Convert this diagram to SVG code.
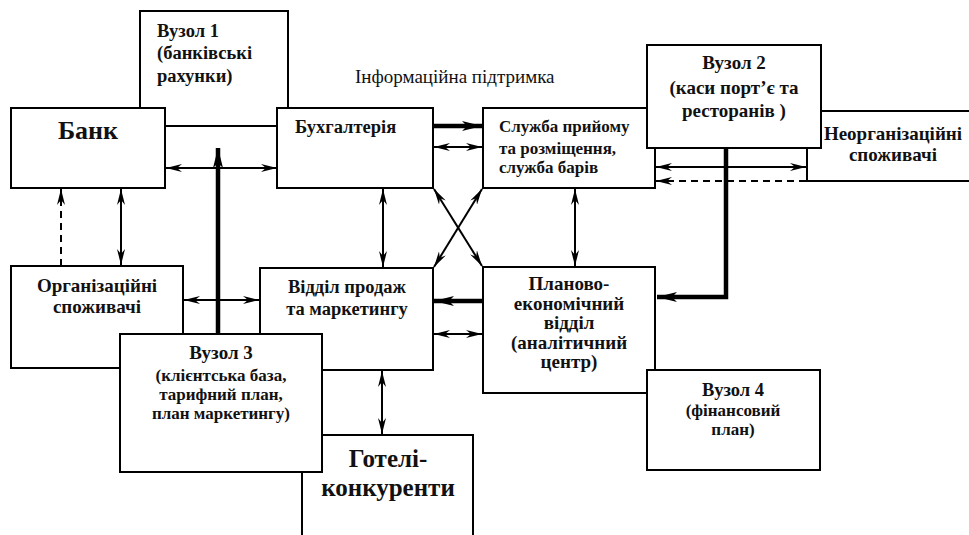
<svg xmlns="http://www.w3.org/2000/svg" width="969" height="535" viewBox="0 0 969 535">
<style>
.box{fill:#fff;stroke:#000;stroke-width:2}
.t{font-family:'Liberation Serif','DejaVu Serif',serif;font-weight:bold;fill:#111}
.r{font-family:'Liberation Serif','DejaVu Serif',serif;font-weight:normal;fill:#111}
.c{text-anchor:middle}
.s17{font-size:17px}.s18{font-size:18.5px}.s19{font-size:19px}.s26{font-size:26px}.s25{font-size:25px}
.ln{fill:none;stroke:#000;stroke-width:2}
.thick{fill:none;stroke:#000;stroke-width:4.5}
.dash{stroke-dasharray:7,5}
</style>
<defs>
<marker id="a" viewBox="0 0 16 8" refX="16" refY="4" markerWidth="16" markerHeight="8" markerUnits="userSpaceOnUse" orient="auto-start-reverse">
<path d="M0,0 L16,4 L0,8 L5,4 z" fill="#000"/>
</marker>
<marker id="b" viewBox="0 0 20 10" refX="20" refY="5" markerWidth="20" markerHeight="10" markerUnits="userSpaceOnUse" orient="auto-start-reverse">
<path d="M0,0 L20,5 L0,10 L5,5 z" fill="#000"/>
</marker>
</defs>
<rect width="969" height="535" fill="#fff"/>

<g id="node-vuzol1">
<rect class="box" x="140" y="11" width="148" height="115"/>
<text class="t s18" x="157" y="37">Вузол 1</text>
<text class="t s18" x="157" y="59">(банківські</text>
<text class="t s18" x="157" y="82">рахунки)</text>
</g>
<g id="node-bank">
<rect class="box" x="11" y="108" width="154" height="80"/>
<text class="t c s26" x="88" y="139">Банк</text>
</g>
<g id="node-buh">
<rect class="box" x="277" y="108" width="156" height="80"/>
<text class="t s18" x="295" y="133">Бухгалтерія</text>
</g>
<g id="node-sluzhba">
<rect class="box" x="483" y="108" width="172" height="80"/>
<text class="t s17" x="499" y="132">Служба прийому</text>
<text class="t s17" x="499" y="154">та розміщення,</text>
<text class="t s17" x="499" y="173">служба барів</text>
</g>
<g id="node-neorg">
<rect class="box" x="807" y="111" width="175" height="70"/>
<text class="t c s19" x="893" y="140">Неорганізаційні</text>
<text class="t c s19" x="893" y="161">споживачі</text>
</g>
<g id="node-vuzol2">
<rect class="box" x="647" y="45" width="174" height="103"/>
<text class="t c s19" x="734" y="69">Вузол 2</text>
<text class="t c s19" x="734" y="94">(каси порт’є та</text>
<text class="t c s19" x="734" y="117">ресторанів )</text>
</g>
<g id="node-org">
<rect class="box" x="11" y="266" width="172" height="102"/>
<text class="t c s19" x="97" y="292">Організаційні</text>
<text class="t c s19" x="97" y="313">споживачі</text>
</g>
<g id="node-viddil">
<rect class="box" x="260" y="268" width="173" height="102"/>
<text class="t c s18" x="347" y="293">Відділ продаж</text>
<text class="t c s18" x="347" y="315">та маркетингу</text>
</g>
<g id="node-hotels">
<rect class="box" x="302" y="435" width="171" height="110"/>
<text class="t c s25" x="388" y="467">Готелі-</text>
<text class="t c s25" x="388" y="496">конкуренти</text>
</g>
<g id="node-vuzol3">
<rect class="box" x="120" y="334" width="202" height="138"/>
<text class="t c s19" x="221" y="359">Вузол 3</text>
<text class="t c s17" x="221" y="381">(клієнтська база,</text>
<text class="t c s17" x="221" y="400">тарифний план,</text>
<text class="t c s17" x="221" y="419">план маркетингу)</text>
</g>
<g id="node-planovo">
<rect class="box" x="483" y="267" width="172" height="126"/>
<text class="t c s19" x="569" y="290">Планово-</text>
<text class="t c s19" x="569" y="310">економічний</text>
<text class="t c s19" x="569" y="329">відділ</text>
<text class="t c s19" x="569" y="349">(аналітичний</text>
<text class="t c s19" x="569" y="368">центр)</text>
</g>
<g id="node-vuzol4">
<rect class="box" x="647" y="370" width="173" height="100"/>
<text class="t c s18" x="733" y="396">Вузол 4</text>
<text class="t c s17" x="733" y="416">(фінансовий</text>
<text class="t c s17" x="733" y="435">план)</text>
</g>

<text class="r s19" x="355" y="83">Інформаційна підтримка</text>

<g id="connectors">
<line class="ln" x1="166" y1="168" x2="277" y2="168" marker-start="url(#a)" marker-end="url(#a)"/>
<line class="thick" x1="218" y1="334" x2="218" y2="148" marker-end="url(#b)"/>
<line class="ln dash" x1="61" y1="266" x2="61" y2="189" marker-end="url(#a)"/>
<line class="ln" x1="121" y1="189" x2="121" y2="265" marker-start="url(#a)" marker-end="url(#a)"/>
<line class="ln" x1="184" y1="300" x2="259" y2="300" marker-start="url(#a)" marker-end="url(#a)"/>
<line class="thick" x1="434" y1="126" x2="482" y2="126" marker-end="url(#b)"/>
<line class="ln" x1="434" y1="147" x2="482" y2="147" marker-start="url(#a)" marker-end="url(#a)"/>
<line class="ln" x1="383" y1="189" x2="383" y2="267" marker-start="url(#a)" marker-end="url(#a)"/>
<line class="ln" x1="575" y1="189" x2="575" y2="266" marker-start="url(#a)" marker-end="url(#a)"/>
<line class="ln" x1="434" y1="189" x2="482" y2="266" marker-start="url(#a)" marker-end="url(#a)"/>
<line class="ln" x1="482" y1="189" x2="434" y2="267" marker-start="url(#a)" marker-end="url(#a)"/>
<line class="ln" x1="656" y1="167" x2="806" y2="167" marker-start="url(#a)" marker-end="url(#a)"/>
<line class="ln dash" x1="806" y1="181" x2="656" y2="181" marker-end="url(#a)"/>
<polyline class="thick" points="726,148 726,297 657,297" marker-end="url(#b)"/>
<line class="thick" x1="483" y1="301" x2="434" y2="301" marker-end="url(#b)"/>
<line class="ln" x1="434" y1="334" x2="482" y2="334" marker-start="url(#a)" marker-end="url(#a)"/>
<line class="ln" x1="382" y1="371" x2="382" y2="434" marker-start="url(#a)" marker-end="url(#a)"/>
</g>
</svg>
